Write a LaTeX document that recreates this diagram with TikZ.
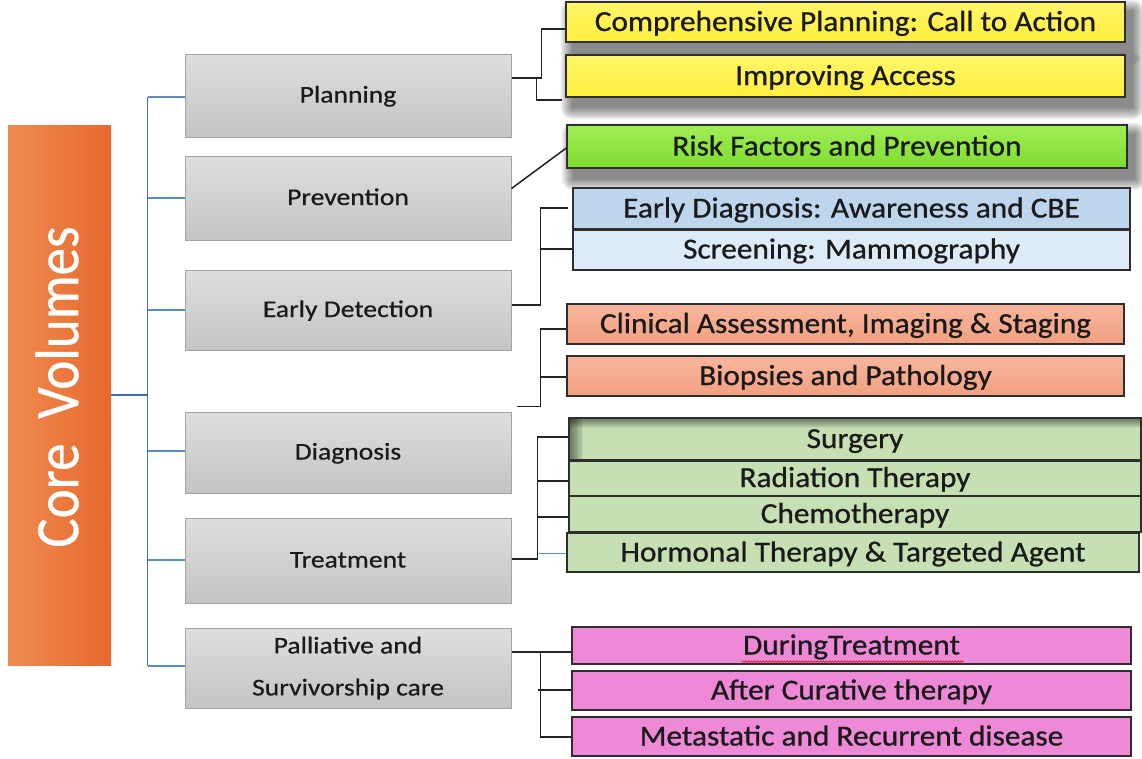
\documentclass[tikz,border=0pt]{standalone}
\usepackage{fontspec}
\setmainfont{Carlito}[FakeStretch=1.08,FakeBold=0.8]
\newfontfamily\grayfont{Carlito}[FakeStretch=1.15,FakeBold=0.6]
\newfontfamily\corefont{Carlito}[FakeBold=0.6]
\usetikzlibrary{calc,decorations.pathmorphing}
\definecolor{orL}{HTML}{F08B4E}
\definecolor{orR}{HTML}{E6692F}
\definecolor{gtop}{HTML}{DEDEDE}
\definecolor{gbot}{HTML}{C4C4C4}
\definecolor{gbord}{HTML}{A3A3A3}
\definecolor{txt}{HTML}{1A1A1A}
\definecolor{bordc}{HTML}{2E2E2E}
\definecolor{linec}{HTML}{222222}
\definecolor{bluel}{HTML}{5B8CC6}
\definecolor{blued}{HTML}{3D6DA8}
\definecolor{yelT}{HTML}{FFF66A}
\definecolor{yelB}{HTML}{FFEF3C}
\definecolor{grnT}{HTML}{9FEE55}
\definecolor{grnB}{HTML}{80DC30}
\definecolor{blA}{HTML}{BDD6EE}
\definecolor{blB}{HTML}{DDEAF7}
\definecolor{salT}{HTML}{F7B69D}
\definecolor{salB}{HTML}{F2A080}
\definecolor{tgrn}{HTML}{C6E0B4}
\definecolor{pnk}{HTML}{EE89D8}
\pgfdeclarelayer{bg}
\pgfsetlayers{bg,main}
\newcommand\softshadow[1]{%
  \foreach \k in {0,...,12}{%
    \fill[black,opacity=0.045,rounded corners=\k pt]
      ($(#1.north west)+(7-\k,10-\k)$) rectangle ($(#1.south east)+(7+\k,10+\k)$);}}
\begin{document}
\begin{tikzpicture}[x=1pt,y=-1pt,
  corebox/.style={left color=orL, right color=orR, draw=none, minimum width=103pt, minimum height=540pt, inner sep=0pt},
  graybox/.style={draw=gbord, line width=1pt, top color=gtop, bottom color=gbot, minimum width=326pt, inner sep=0pt, text=txt, align=center, font=\grayfont\fontsize{24}{42}\selectfont, text height=14pt, text depth=0pt},
  itembox/.style={draw=bordc, line width=1.4pt, inner sep=0pt, text=txt, font=\fontsize{29}{32}\selectfont, text height=18pt, text depth=0pt},
  yelbox/.style={itembox, top color=yelT, bottom color=yelB, minimum width=559pt},
  grnbox/.style={itembox, top color=grnT, bottom color=grnB, minimum width=560pt},
  salbox/.style={itembox, top color=salT, bottom color=salB, minimum width=557pt, minimum height=40pt},
  trtbox/.style={itembox, fill=tgrn, minimum width=572pt},
  pnkbox/.style={itembox, fill=pnk, minimum width=559pt},
  conn/.style={draw=linec, line width=1.5pt},
  bl/.style={draw=bluel, line width=1.3pt},
  trunk/.style={draw=blued!85!bluel, line width=1.8pt},
  blthick/.style={draw=blued, line width=2.6pt}]
\useasboundingbox (0,0) rectangle (1142,758);

% core volumes
\node[corebox] (core) at (59.5,395) {};
\node[rotate=90, text=white, inner sep=0pt] (coretext) at (57,387)
  {\scalebox{1}[1.12]{\corefont\fontsize{55}{60}\selectfont Core\ \ Volumes}};

% gray category boxes
\node[graybox, minimum height=83pt] (plan)  at (348,95.5)  {Planning};
\node[graybox, minimum height=84pt] (prev)  at (348,198)   {Prevention};
\node[graybox, minimum height=80pt] (early) at (348,310)   {Early Detection};
\node[graybox, minimum height=81pt] (diag)  at (348,452.5) {Diagnosis};
\node[graybox, minimum height=85pt] (treat) at (348,560.5) {Treatment};
\node[graybox, minimum height=80pt, text height=, text depth=] (pall)  at (348,668)   {Palliative and\\Survivorship care};

% item boxes
\node[yelbox, minimum height=40pt] (y1) at (845.5,22) {Comprehensive Planning: Call to Action};
\node[yelbox, minimum height=42pt] (y2) at (845.5,76) {Improving Access};
\node[grnbox, minimum height=43pt] (gr) at (847,146.5) {Risk Factors and Prevention};
\node[itembox, fill=blA, minimum width=557pt, minimum height=41pt] (b1) at (851.5,208.5) {Early Diagnosis: Awareness and CBE};
\node[itembox, fill=blB, minimum width=557pt, minimum height=41pt] (b2) at (851.5,249.5) {Screening: Mammography};
\node[salbox] (s1) at (845.5,324) {Clinical Assessment, Imaging \& Staging};
\node[salbox] (s2) at (845.5,376) {Biopsies and Pathology};
\node[itembox, minimum width=572pt, minimum height=42pt] (t1) at (855,439) {Surgery};
\node[trtbox, minimum height=36pt] (t2) at (855,478) {Radiation Therapy};
\node[trtbox, minimum height=36pt] (t3) at (855,514) {Chemotherapy};
\node[trtbox, minimum height=39pt] (t4) at (853,552.5) {Hormonal Therapy \& Targeted Agent};
\node[pnkbox, minimum height=37pt] (p1) at (851.5,645.5) {DuringTreatment};
\node[pnkbox, minimum height=39pt] (p2) at (851.5,690.5) {After Curative therapy};
\node[pnkbox, minimum height=39pt] (p3) at (851.5,736.5) {Metastatic and Recurrent disease};
\draw[bordc, line width=2.4pt] (t1.south west) -- (t1.south east);
\draw[bordc, line width=2.4pt] (b1.south west) -- (b1.south east);

% spell-check squiggle
\draw[red!85!black, line width=0.6pt, decorate, decoration={snake, amplitude=0.8pt, segment length=3pt}]
  ($(p1.south)+(-110,-3)$) -- ($(p1.south)+(112,-3)$);

% backgrounds: soft shadows and inner shadow of Surgery box
\begin{pgfonlayer}{bg}
\fill[white] (0,0) rectangle (1142,758);
\softshadow{y1}
\softshadow{y2}
\softshadow{gr}
\fill[tgrn] (t1.north west) rectangle (t1.south east);
\foreach \i in {0,...,10}{
  \fill[black,opacity=0.055] (t1.north west) rectangle ($(t1.north east)+(0,11-\i)$);
  \fill[black,opacity=0.05] (t1.north west) rectangle ($(t1.south west)+(15-1.3*\i,0)$);
}
\end{pgfonlayer}

% blue tree
\draw[trunk] ($(plan.west)+(-37,1.5)$) -- ($(pall.west)+(-37,-2)$);
\draw[bl] ($(plan.west)+(-37,1.5)$) -- ($(plan.west)+(0,1.5)$);
\draw[bl] ($(prev.west)+(-37,0)$) -- (prev.west);
\draw[bl] ($(early.west)+(-37,0)$) -- (early.west);
\draw[bl] ($(diag.west)+(-37,-1.5)$) -- ($(diag.west)+(0,-1.5)$);
\draw[bl] ($(treat.west)+(-37,-0.5)$) -- ($(treat.west)+(0,-0.5)$);
\draw[bl] ($(pall.west)+(-37,-2)$) -- ($(pall.west)+(0,-2)$);
\draw[blthick] (core.east) -- ($(core.east)+(37,0)$);

% black connectors
\draw[conn] ($(plan.east)+(0,-17.5)$) -| ($(y1.west)+(-24,7)$) -- ($(y1.west)+(0,7)$);
\draw[conn] ($(plan.east)+(25,-17.5)$) |- ($(y2.west)+(-3,24)$);
\draw[conn] ($(prev.east)+(0,-9.5)$) -- ($(gr.west)+(0,1.5)$);
\draw[conn] ($(early.east)+(0,-5)$) -| ($(b1.west)+(-32,-0.5)$) -- ($(b1.west)+(-4,-0.5)$);
\draw[conn] ($(b2.west)+(-32,-0.5)$) -- ($(b2.west)+(0,-0.5)$);
\draw[conn] ($(diag.north east)+(5,-5)$) -| ($(s1.west)+(-26,5)$) -- ($(s1.west)+(0,5)$);
\draw[conn] ($(s2.west)+(-26,1)$) -- ($(s2.west)+(0,1)$);
\draw[conn] ($(treat.east)+(0,-1.5)$) -| ($(t1.west)+(-31,-2)$) -- ($(t1.west)+(0,-2)$);
\draw[conn] ($(t2.west)+(-31,3)$) -- ($(t2.west)+(0,3)$);
\draw[conn] ($(t3.west)+(-31,3)$) -- ($(t3.west)+(0,3)$);
\draw[bl] ($(t4.west)+(-27,1)$) -- ($(t4.west)+(0,1)$);
\draw[conn] ($(pall.east)+(0,-16)$) -- ($(p1.west)+(0,6.5)$);
\draw[conn] ($(p1.west)+(-31,6.5)$) |- ($(p3.west)+(0,0.5)$);
\draw[conn] ($(p2.west)+(-33,-0.5)$) -- ($(p2.west)+(0,-0.5)$);
\end{tikzpicture}
\end{document}
